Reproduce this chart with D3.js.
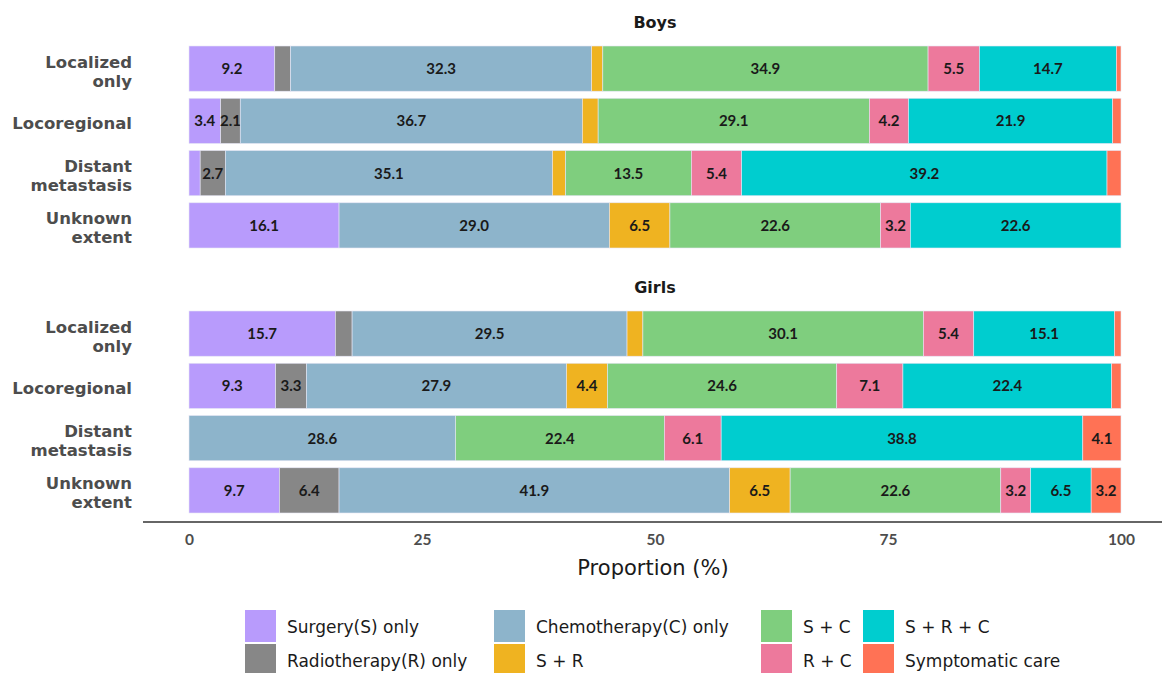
<!DOCTYPE html>
<html><head><meta charset="utf-8">
<script src="https://cdn.jsdelivr.net/npm/d3@7"></script>
<style>
body{margin:0;background:#fff;}
svg{font-family:Lato,"Open Sans",sans-serif;}
</style></head>
<body><svg id="chart" width="1162" height="673"></svg>
<script>
const panels = ["Boys", "Girls"];
const stages = ["Localized only", "Locoregional", "Distant metastasis", "Unknown extent"];
const stageLines = [["Localized","only"],["Locoregional"],["Distant","metastasis"],["Unknown","extent"]];
const treatments = ["Surgery(S) only","Radiotherapy(R) only","Chemotherapy(C) only","S + R","S + C","R + C","S + R + C","Symptomatic care"];
const colors = ["#b89bfc","#878787","#8db4cb","#efb321","#7fce7e","#ed799c","#00cdcf","#ff7255"];
// values per stage, in treatment order
const boysValues = [
  [9.2, 1.7, 32.3, 1.2, 34.9, 5.5, 14.7, 0.5],
  [3.4, 2.1, 36.7, 1.7, 29.1, 4.2, 21.9, 0.9],
  [1.2, 2.7, 35.1, 1.4, 13.5, 5.4, 39.2, 1.5],
  [16.1, 0, 29.0, 6.5, 22.6, 3.2, 22.6, 0]
];
const girlsValues = [
  [15.7, 1.8, 29.5, 1.7, 30.1, 5.4, 15.1, 0.7],
  [9.3, 3.3, 27.9, 4.4, 24.6, 7.1, 22.4, 1.0],
  [0, 0, 28.6, 0, 22.4, 6.1, 38.8, 4.1],
  [9.7, 6.4, 41.9, 6.5, 22.6, 3.2, 6.5, 3.2]
];
const xTicks = [0, 25, 50, 75, 100];
const axisTitle = "Proportion (%)";

const svg = d3.select("#chart");
const x = d3.scaleLinear().domain([0,100]).range([189,1121]);
const color = d3.scaleOrdinal().domain(treatments).range(colors);
const panelTops = [46, 311];
const y = d3.scaleBand().domain(stages).range([0, 202]).paddingInner(0.135).paddingOuter(0);

const allValues = [boysValues, girlsValues];
panels.forEach((p, pi) => {
  const g = svg.append("g").attr("transform", `translate(0,${panelTops[pi]})`);
  g.append("text").attr("x", 655).attr("y", -18).attr("text-anchor","middle")
    .attr("font-family","DejaVu Sans").attr("font-weight","bold").attr("font-size",16)
    .attr("fill","#1a1a1a").text(p);
  const rows = allValues[pi].map((vals, si) => {
    const obj = {stage: stages[si]};
    treatments.forEach((t, ti) => obj[t] = vals[ti]);
    return obj;
  });
  const series = d3.stack().keys(treatments)(rows);
  series.forEach(s => {
    const sg = g.append("g");
    sg.selectAll("rect").data(s.filter(d => d[1]-d[0] > 0)).join("rect")
      .attr("x", d => x(d[0])).attr("width", d => x(d[1]) - x(d[0]))
      .attr("y", d => y(d.data.stage)).attr("height", y.bandwidth())
      .attr("fill", color(s.key)).attr("stroke","#e6e6f5").attr("stroke-width",0.6);
    sg.selectAll("text").data(s.filter(d => d[1]-d[0] >= 2)).join("text")
      .attr("x", d => (x(d[0]) + x(d[1]))/2).attr("y", d => y(d.data.stage) + y.bandwidth()/2)
      .attr("dy","0.36em").attr("text-anchor","middle").attr("font-weight","bold")
      .attr("font-size",15).attr("fill","#1a1a1a")
      .text(d => (d[1]-d[0]).toFixed(1));
  });
  // stage labels
  stages.forEach((st, si) => {
    const lines = stageLines[si];
    const cy = y(st) + y.bandwidth()/2 + 2.5;
    const t = g.append("text").attr("text-anchor","end").attr("font-family","DejaVu Sans")
      .attr("font-weight","bold").attr("font-size",16.5).attr("fill","#4d4d4d");
    lines.forEach((ln, li) => {
      t.append("tspan").attr("x",132)
        .attr("y", cy + (li - (lines.length-1)/2) * 19).attr("dy","0.36em").text(ln);
    });
  });
});

// x axis
const axisG = svg.append("g").attr("transform","translate(0,522)");
axisG.call(d3.axisBottom(x).tickValues(xTicks).tickSize(0).tickPadding(12).tickFormat(d3.format("d")));
axisG.select(".domain").remove();
axisG.append("line").attr("x1",143).attr("x2",1162).attr("y1",0).attr("y2",0)
  .attr("stroke","#333").attr("stroke-width",1.5);
axisG.selectAll(".tick text").attr("font-size",15.5).attr("font-weight","bold")
  .attr("fill","#4d4d4d").attr("font-family","Lato,sans-serif");
svg.append("text").attr("x",653).attr("y",575).attr("text-anchor","middle")
  .attr("font-family","DejaVu Sans").attr("font-size",21).attr("fill","#1a1a1a").text(axisTitle);

// legend
const legX = [245, 494, 761, 863];
const legY = [610, 644];
const lg = svg.append("g");
treatments.forEach((t, i) => {
  const col = Math.floor(i/2), row = i % 2;
  lg.append("rect").attr("x", legX[col]).attr("y", legY[row]).attr("width",31).attr("height",32)
    .attr("fill", color(t));
  lg.append("text").attr("x", legX[col] + 42).attr("y", legY[row] + 17).attr("dy","0.35em")
    .attr("font-family","DejaVu Sans").attr("font-size",17).attr("fill","#1a1a1a").text(t);
});
</script></body></html>
